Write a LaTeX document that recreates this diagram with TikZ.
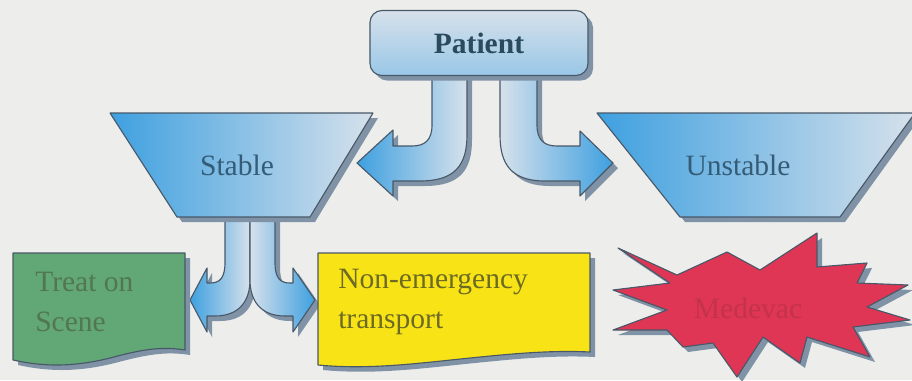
\documentclass[tikz,border=0pt]{standalone}
\usepackage{fontspec}
\setmainfont{Liberation Serif}
\usetikzlibrary{calc}
\definecolor{paper}{RGB}{237,238,236}
\definecolor{skyblue}{RGB}{62,160,224}
\definecolor{paleblue}{RGB}{214,225,235}
\definecolor{shade}{RGB}{128,146,166}
\definecolor{rim}{RGB}{72,88,104}
\definecolor{inktext}{RGB}{52,92,118}
\definecolor{leaf}{RGB}{98,168,118}
\definecolor{leaftext}{RGB}{82,118,82}
\definecolor{lemon}{RGB}{248,228,22}
\definecolor{olive}{RGB}{108,106,36}
\definecolor{crimson}{RGB}{222,54,84}
\definecolor{crimsontext}{RGB}{196,50,76}

\begin{document}
\begin{tikzpicture}[x=0.25mm, y=-0.25mm,
  rim/.style={draw=rim, line width=0.8pt, line join=round},
  drop/.style={preaction={fill=shade, transform canvas={shift={(5,5)}}}},
  lbl/.style={font=\fontsize{21}{28}\selectfont, inner sep=0pt},
  blueL/.style={left color=skyblue, right color=paleblue},
  blueR/.style={left color=paleblue, right color=skyblue}]
\fill[paper] (0,0) rectangle (912,380);
\useasboundingbox (0,0) rectangle (912,380);

\shade[rim, drop, blueL] (432,60) -- (432,125) .. controls (432,140) and (425,146) .. (412,146) -- (393,146) -- (393,130) -- (357,163) -- (393,196) -- (393,181) -- (420,181) .. controls (455,181) and (467,165) .. (467,135) -- (467,60) -- cycle;
\shade[rim, drop, blueR] (537,60) -- (537,125) .. controls (537,140) and (544,146) .. (557,146) -- (580,146) -- (580,131) -- (613,163) -- (580,196) -- (580,181) -- (545,181) .. controls (512,181) and (500,165) .. (500,135) -- (500,60) -- cycle;
\node[rim, drop, rounded corners=3mm, top color=paleblue, bottom color=skyblue!40!paleblue, minimum width=54.5mm, minimum height=16.25mm, lbl, font=\fontsize{21}{28}\selectfont\bfseries, text=inktext!80!black] (patient) at (479,43) {Patient};

\shade[rim, drop, blueL] (225,200) -- (225,262) .. controls (225,278) and (220,283) .. (210,283) -- (207,283) -- (207,268) -- (190,300) -- (207,332) -- (207,316) -- (215,316) .. controls (240,316) and (250,300) .. (250,280) -- (250,200) -- cycle;
\shade[rim, drop, blueR] (275,200) -- (275,262) .. controls (275,278) and (280,283) .. (290,283) -- (293,283) -- (293,268) -- (315,300) -- (293,332) -- (293,316) -- (285,316) .. controls (260,316) and (250,300) .. (250,280) -- (250,200) -- cycle;

\shade[rim, drop, blueL] (110,113) -- (373,113) -- (310,217) -- (177,217) -- cycle;
\node[lbl, text=inktext] (stable) at (237,165) {Stable};
\shade[rim, drop, blueL] (597,113) -- (915,113) -- (840,217) -- (680,217) -- cycle;
\node[lbl, text=inktext] (unstable) at (738,165) {Unstable};

\path[rim, drop, fill=leaf] (13,253) -- (185,253) -- (185,350) .. controls (160,346) and (140,350) .. (110,358) .. controls (70,368) and (40,366) .. (13,360) -- cycle;
\node[lbl, align=left, anchor=west, text=leaftext] (treat) at (35,302) {Treat on\\Scene};
\path[rim, drop, fill=lemon] (318,253) -- (590,253) -- (590,352) .. controls (550,350) and (510,354) .. (470,358) .. controls (420,363) and (370,370) .. (318,365) -- cycle;
\node[lbl, align=left, anchor=west, text=olive] (transport) at (338,302) {Non-emergency\\transport};

\path[rim, drop, fill=crimson] (618,248) -- (677,275) -- (727,252) -- (760,270) -- (817,233) -- (817,267) -- (867,263) -- (857,283) -- (908,285) -- (867,307) -- (910,320) -- (853,327) -- (870,357) -- (807,337) -- (800,363) -- (763,337) -- (737,377) -- (713,343) -- (683,347) -- (667,330) -- (613,330) -- (667,310) -- (613,290) -- (670,283) -- cycle;
\node[lbl, text=crimsontext] (medevac) at (748,308) {Medevac};
\end{tikzpicture}
\end{document}
